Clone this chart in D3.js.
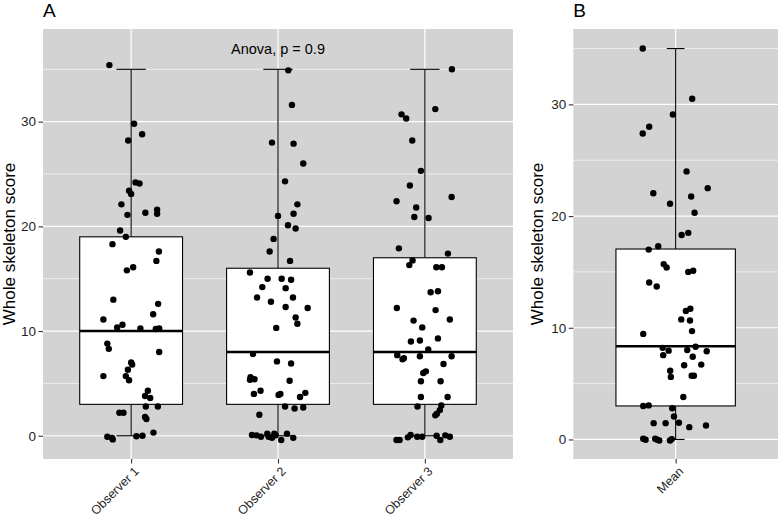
<!DOCTYPE html>
<html><head><meta charset="utf-8">
<script src="https://cdn.jsdelivr.net/npm/d3@7"></script>
<style>
body{margin:0;background:#fff}
svg{display:block}
text{font-family:"Liberation Sans",Arial,Helvetica,sans-serif}
</style>
</head><body>
<svg id="chart" width="778" height="519"></svg>
<script>
// ---------- data ----------
const categoriesA = ["Observer 1", "Observer 2", "Observer 3"];
const categoriesB = ["Mean"];
const yTicks = [0, 10, 20, 30];
const yMinorTicks = [5, 15, 25, 35];
const yTitle = "Whole skeleton score";
const panelLabels = ["A", "B"];
const annotationA = "Anova, p = 0.9";
const annotationAValue = 36.9;

// box statistics (lower whisker, Q1, median, Q3, upper whisker)
const whiskerLowA = [0, 0, 0];
const q1A = [3, 3, 3];
const medianA = [10, 8, 8];
const q3A = [19, 16, 17];
const whiskerHighA = [35, 35, 35];

const whiskerLowB = [0];
const q1B = [3];
const medianB = [8.35];
const q3B = [17.05];
const whiskerHighB = [35];

// jittered points: [score, horizontal jitter in category units]
const pointsObserver1 = [
 [35.4,-0.148],[29.8,0.02],[28.8,0.075],[28.2,-0.02],[24.2,0.03],[24.1,0.057],[23.4,-0.014],[23.1,0],
 [22.1,-0.066],[21.3,0.097],[21.6,0.177],[21.2,0.177],[21.1,-0.025],[19.6,-0.075],[19.0,-0.036],[18.3,-0.127],
 [17.6,0.189],[16.7,0.172],[16.1,0.014],[15.8,-0.029],[13.0,-0.121],[12.6,0.184],[11.1,-0.189],[11.6,0.15],
 [10.35,-0.095],[10.6,-0.059],[10.25,0.063],[10.2,0.168],[10.25,0.191],[8.8,-0.162],[8.3,-0.152],[8.0,0.191],
 [7.0,0],[6.8,0.007],[6.3,-0.022],[5.7,-0.036],[5.3,-0.014],[5.7,-0.189],[4.3,0.114],[3.8,0.095],[3.6,0.13],
 [2.8,0.1],[2.8,0.182],[2.2,-0.08],[2.2,-0.052],[1.8,0.095],[1.6,0.104],[0.3,0.152],[-0.1,-0.162],[-0.2,-0.13],
 [-0.35,-0.125],[-0.05,0.036],[0,0.077]
];
const pointsObserver2 = [
 [34.9,0.07],[31.6,0.095],[28.0,-0.041],[27.9,0.106],[26.0,0.172],[24.3,0.048],[22.1,0.132],[21.2,0.106],
 [21.0,0],[20.1,0.068],[19.8,0.12],[18.8,-0.03],[17.6,-0.057],[16.7,0.082],[15.6,-0.191],[15.0,-0.071],
 [15.0,0.025],[14.9,0.089],[14.2,-0.107],[14.1,0.052],[13.2,-0.143],[12.8,-0.048],[13.2,0.102],[12.3,0.052],
 [12.2,0.202],[11.3,0.12],[10.7,0.132],[10.3,-0.012],[7.8,-0.17],[7.1,-0.007],[6.9,0.089],[5.6,-0.187],
 [5.4,-0.16],[5.35,-0.191],[5.25,0.079],[4.3,-0.119],[4.0,-0.164],[3.9,0.004],[4.0,0.016],[4.1,0.186],
 [3.7,0.15],[2.8,0.048],[2.6,0.113],[2.7,0.172],[2.0,-0.127],[0.07,-0.177],[0.04,-0.146],[-0.1,-0.116],
 [0.2,-0.073],[-0.1,-0.064],[-0.2,-0.041],[0.2,-0.025],[0.04,-0.016],[-0.4,0.022],[0.2,0.061],[-0.2,0.104]
];
const pointsObserver3 = [
 [35.0,0.184],[31.2,0.071],[30.7,-0.159],[30.3,-0.127],[28.2,-0.086],[25.3,-0.027],[23.9,-0.102],[22.8,0.182],
 [22.4,-0.193],[21.8,-0.059],[20.9,-0.072],[20.8,0.025],[17.9,-0.177],[17.4,0.157],[16.75,-0.084],[16.3,-0.106],
 [16.1,0.078],[16.1,0.116],[13.7,0.039],[13.8,0.089],[12.2,-0.191],[12.0,0.073],[11.0,-0.077],[11.1,0.17],
 [10.35,-0.018],[9.0,-0.095],[9.1,-0.034],[9.3,0.089],[8.25,0.023],[7.7,-0.188],[7.3,-0.152],[7.4,-0.143],
 [7.6,-0.034],[7.6,0.182],[6.85,0.127],[6.0,-0.011],[6.15,0.007],[5.2,-0.027],[5.2,0.107],[3.7,-0.027],
 [3.7,0.155],[2.8,-0.05],[2.9,0.112],[2.45,0.102],[2.1,0.082],[1.95,0.071],[-0.4,-0.193],[-0.4,-0.172],
 [-0.15,-0.116],[0.07,-0.097],[-0.1,-0.052],[-0.1,-0.018],[0,0.08],[-0.4,0.105],[0.04,0.139],[-0.1,0.17]
];
const pointsMean = [
 [35.0,-0.193],[30.5,0.097],[29.1,-0.016],[28.0,-0.155],[27.4,-0.193],[24.0,0.064],[22.05,-0.131],[22.5,0.188],
 [21.75,0.091],[21.1,-0.033],[20.3,0.111],[18.3,0.035],[18.5,0.074],[17.3,-0.102],[17.0,-0.158],[15.7,-0.07],
 [15.4,-0.053],[15.0,0.074],[15.1,0.103],[14.05,-0.155],[13.7,-0.111],[11.5,0.06],[11.7,0.086],[10.75,0.033],
 [10.65,0.084],[9.7,0.096],[9.45,-0.19],[8.2,-0.076],[7.95,-0.041],[8.0,0.068],[8.3,0.117],[7.9,0.182],
 [7.55,-0.073],[7.4,0.1],[6.65,0.05],[6.7,0.15],[6.15,-0.032],[5.6,-0.028],[5.7,0.094],[5.7,0.107],
 [3.8,0.045],[3.0,-0.19],[3.05,-0.158],[2.8,-0.02],[2.06,-0.01],[1.46,-0.129],[1.46,-0.059],[1.5,0.019],
 [1.1,0.08],[1.25,0.178],[0.06,-0.19],[-0.03,-0.176],[0.06,-0.12],[-0.03,-0.108],[-0.09,-0.096],[-0.09,-0.033],
 [0.03,-0.023]
];

// ---------- drawing ----------
const svg = d3.select("#chart");
const BG = "#d3d3d3";
const TXT = "#1f1f1f";

function drawPanel(cfg) {
  const g = svg.append("g");
  const n = cfg.categories.length;
  const x = d3.scaleLinear().domain([0.4, n + 0.6]).range([cfg.left, cfg.right]);
  const y = d3.scaleLinear().domain(cfg.yDomain).range([cfg.bottom, cfg.top]);
  const idx = d3.range(1, n + 1);

  g.append("rect").attr("x", cfg.left).attr("y", cfg.top)
    .attr("width", cfg.right - cfg.left).attr("height", cfg.bottom - cfg.top).attr("fill", BG);

  g.selectAll(".gmin").data(yMinorTicks).join("line")
    .attr("x1", cfg.left).attr("x2", cfg.right)
    .attr("y1", d => y(d)).attr("y2", d => y(d))
    .attr("stroke", "#fff").attr("stroke-width", 0.6);
  g.selectAll(".gmaj").data(yTicks).join("line")
    .attr("x1", cfg.left).attr("x2", cfg.right)
    .attr("y1", d => y(d)).attr("y2", d => y(d))
    .attr("stroke", "#fff").attr("stroke-width", 1.2);
  g.selectAll(".gx").data(idx).join("line")
    .attr("x1", d => x(d)).attr("x2", d => x(d))
    .attr("y1", cfg.top).attr("y2", cfg.bottom)
    .attr("stroke", "#fff").attr("stroke-width", 1.2);

  const bw = 0.35, cw = cfg.capHalf;
  const boxes = g.selectAll(".box").data(idx).join("g");
  boxes.append("line").attr("x1", d => x(d)).attr("x2", d => x(d))
    .attr("y1", d => y(cfg.hi[d-1])).attr("y2", d => y(cfg.q3[d-1]))
    .attr("stroke", "#000").attr("stroke-width", 1.1);
  boxes.append("line").attr("x1", d => x(d)).attr("x2", d => x(d))
    .attr("y1", d => y(cfg.lo[d-1])).attr("y2", d => y(cfg.q1[d-1]))
    .attr("stroke", "#000").attr("stroke-width", 1.1);
  boxes.append("line").attr("x1", d => x(d - cw)).attr("x2", d => x(d + cw))
    .attr("y1", d => y(cfg.hi[d-1])).attr("y2", d => y(cfg.hi[d-1]))
    .attr("stroke", "#000").attr("stroke-width", 1.1);
  boxes.append("line").attr("x1", d => x(d - cw)).attr("x2", d => x(d + cw))
    .attr("y1", d => y(cfg.lo[d-1])).attr("y2", d => y(cfg.lo[d-1]))
    .attr("stroke", "#000").attr("stroke-width", 1.1);
  boxes.append("rect").attr("x", d => x(d - bw)).attr("width", d => x(d + bw) - x(d - bw))
    .attr("y", d => y(cfg.q3[d-1])).attr("height", d => y(cfg.q1[d-1]) - y(cfg.q3[d-1]))
    .attr("fill", "#fff").attr("stroke", "#000").attr("stroke-width", 1.1);
  boxes.append("line").attr("x1", d => x(d - bw)).attr("x2", d => x(d + bw))
    .attr("y1", d => y(cfg.med[d-1])).attr("y2", d => y(cfg.med[d-1]))
    .attr("stroke", "#000").attr("stroke-width", 2.6);

  cfg.points.forEach((pts, i) => {
    g.selectAll(null).data(pts).join("circle")
      .attr("cx", d => x(i + 1 + d[1])).attr("cy", d => y(d[0]))
      .attr("r", 3.2).attr("fill", "#000");
  });

  const ya = g.append("g").attr("transform", `translate(${cfg.left},0)`)
    .call(d3.axisLeft(y).tickValues(yTicks).tickSize(4.5).tickPadding(2.5));
  ya.select(".domain").remove();
  ya.selectAll(".tick line").attr("stroke", "#333").attr("stroke-width", 1.1);
  ya.selectAll(".tick text").attr("fill", TXT).style("font-size", "13.5px");

  const xa = g.append("g").attr("transform", `translate(0,${cfg.bottom})`)
    .call(d3.axisBottom(x).tickValues(idx).tickFormat(d => cfg.categories[d-1]).tickSize(4.5));
  xa.select(".domain").remove();
  xa.selectAll(".tick line").attr("stroke", "#333").attr("stroke-width", 1.1);
  xa.selectAll(".tick text").attr("fill", TXT).style("font-size", "12.5px")
    .attr("text-anchor", "end").attr("x", 0).attr("y", 0).attr("dy", "0.35em")
    .attr("transform", "translate(5,10) rotate(-45)");

  g.append("text").attr("transform", `translate(${cfg.titleX},${(cfg.top + cfg.bottom) / 2}) rotate(-90)`)
    .attr("text-anchor", "middle").style("font-size", "17px").attr("fill", "#000").text(yTitle);

  g.append("text").attr("x", cfg.left).attr("y", 17).style("font-size", "19px")
    .attr("fill", "#000").text(cfg.tag);

  return {x, y, g};
}

const pA = drawPanel({
  categories: categoriesA, left: 43, right: 513, top: 29, bottom: 459,
  yDomain: [-2.22, 38.85], capHalf: 0.1,
  lo: whiskerLowA, q1: q1A, med: medianA, q3: q3A, hi: whiskerHighA,
  points: [pointsObserver1, pointsObserver2, pointsObserver3],
  titleX: 15, tag: panelLabels[0]
});
pA.g.append("text").attr("x", pA.x(2)).attr("y", pA.y(annotationAValue)).attr("dy", "0.35em")
  .attr("text-anchor", "middle").style("font-size", "14.5px").attr("fill", "#000").text(annotationA);

drawPanel({
  categories: categoriesB, left: 573.3, right: 778, top: 29, bottom: 459,
  yDomain: [-1.75, 36.75], capHalf: 0.052,
  lo: whiskerLowB, q1: q1B, med: medianB, q3: q3B, hi: whiskerHighB,
  points: [pointsMean],
  titleX: 543, tag: panelLabels[1]
});
</script>
</body></html>
